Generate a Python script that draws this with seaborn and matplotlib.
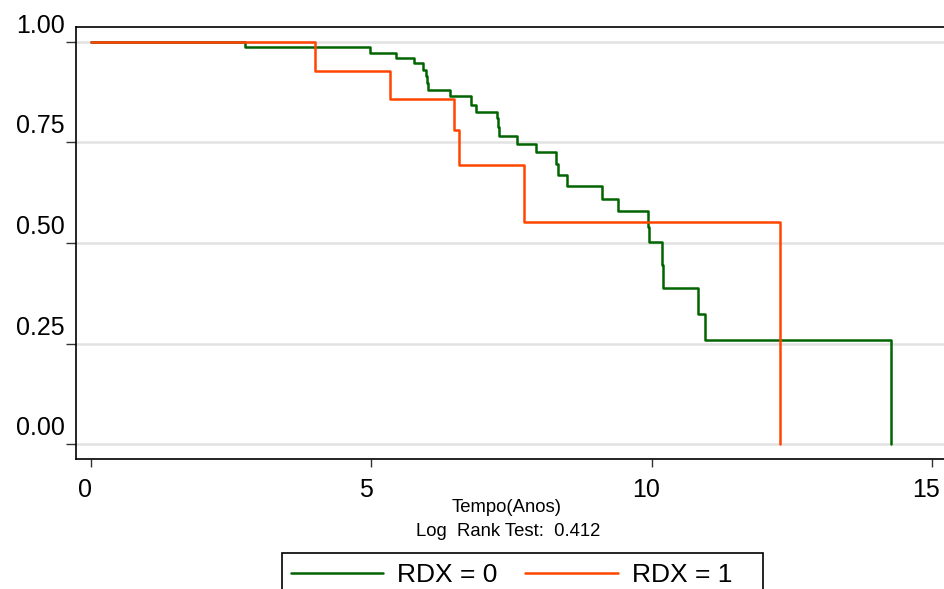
import numpy as np
import pandas as pd
import matplotlib
matplotlib.use("Agg")
import matplotlib.pyplot as plt
import matplotlib.transforms as mtransforms
from matplotlib.patches import Rectangle
import seaborn as sns

# Kaplan-Meier estimates
tempo_rdx0 = [0.0, 2.75, 4.97, 5.44, 5.77, 5.92, 5.97, 6.00, 6.02, 6.41, 6.78, 6.87,
              7.24, 7.26, 7.27, 7.60, 7.93, 8.30, 8.34, 8.50, 9.12, 9.40, 9.93,
              9.96, 10.19, 10.20, 10.83, 10.95, 14.27]
surv_rdx0 = [1.0, 0.988, 0.973, 0.960, 0.947, 0.930, 0.914, 0.897, 0.880, 0.864,
             0.843, 0.826, 0.810, 0.788, 0.767, 0.745, 0.725, 0.696, 0.669, 0.642,
             0.610, 0.579, 0.541, 0.502, 0.445, 0.389, 0.324, 0.258, 0.0]
tempo_rdx1 = [0.0, 3.99, 5.34, 6.47, 6.57, 7.73, 12.30]
surv_rdx1 = [1.0, 0.928, 0.858, 0.781, 0.693, 0.553, 0.0]

grupos = ["RDX = 0", "RDX = 1"]
cores = {"RDX = 0": "#006400", "RDX = 1": "#FF4500"}
yticks = [0.0, 0.25, 0.50, 0.75, 1.00]
xticks = [0, 5, 10, 15]

df = pd.concat([
    pd.DataFrame({"Tempo": tempo_rdx0, "Surv": surv_rdx0, "Grupo": grupos[0]}),
    pd.DataFrame({"Tempo": tempo_rdx1, "Surv": surv_rdx1, "Grupo": grupos[1]}),
], ignore_index=True)

sns.set_theme(style="white")
plt.rcParams["font.family"] = ["Liberation Sans", "DejaVu Sans"]
plt.rcParams["text.color"] = "black"
plt.rcParams["xtick.color"] = "black"
plt.rcParams["ytick.color"] = "black"

fig = plt.figure(figsize=(9.45, 5.89), dpi=100)
ax = fig.add_axes([0.0799, 0.2199, 0.9201, 0.7338])

for y in yticks:
    ax.axhline(y, color="#e2e2e2", lw=1.8, zorder=0)

sns.lineplot(data=df, x="Tempo", y="Surv", hue="Grupo", palette=cores,
             estimator=None, drawstyle="steps-post", lw=1.8, ax=ax)

ax.set_xlim(-0.277, 15.236)
ax.set_ylim(-0.0375, 1.0358)
ax.set_xticks(xticks)
ax.set_xticklabels([str(x) for x in xticks])
ax.set_yticks(yticks)
ax.set_yticklabels([f"{y:.2f}" for y in yticks])
ax.set_xlabel("")
ax.set_ylabel("")

for s in ["left", "bottom", "top"]:
    ax.spines[s].set_visible(True)
    ax.spines[s].set_color("black")
    ax.spines[s].set_linewidth(1.2)
ax.spines["right"].set_visible(False)

ax.tick_params(axis="y", direction="out", length=7, width=1, color="#333333",
               pad=1, labelsize=18, labelcolor="black", left=True)
ax.tick_params(axis="x", direction="out", length=5.8, width=1, color="#333333",
               pad=7.5, labelsize=18, labelcolor="black", bottom=True)

# tick labels sit a little off their ticks, as in the original
up = mtransforms.ScaledTranslation(0, 0.185, fig.dpi_scale_trans)
for lab in ax.get_yticklabels():
    lab.set_transform(lab.get_transform() + up)
left = mtransforms.ScaledTranslation(-0.057, 0, fig.dpi_scale_trans)
for lab in ax.get_xticklabels():
    lab.set_transform(lab.get_transform() + left)

fig.text(507 / 945, 1 - 507 / 589, "Tempo(Anos)", ha="center", va="center", fontsize=13.3)
fig.text(508 / 945, 1 - 531 / 589, "Log  Rank Test:  0.412", ha="center", va="center", fontsize=13.3)

# legend box runs off the bottom of the image
fig.patches.append(Rectangle((282 / 945, -0.05), 481 / 945, 0.05 + 1 - 553 / 589,
                             transform=fig.transFigure, fill=False,
                             edgecolor="black", lw=1.2))
handles, labels = ax.get_legend_handles_labels()
ax.get_legend().remove()
leg = fig.legend(handles, labels, loc="upper left",
                 bbox_to_anchor=(291 / 945 - 0.0005, 1 - 563 / 589),
                 ncol=2, fontsize=19, frameon=False, borderpad=0, borderaxespad=0,
                 handlelength=3.5, handletextpad=0.55, columnspacing=1.05)
for h in leg.get_lines():
    h.set_linewidth(1.8)

fig.savefig("out.png", dpi=100)
